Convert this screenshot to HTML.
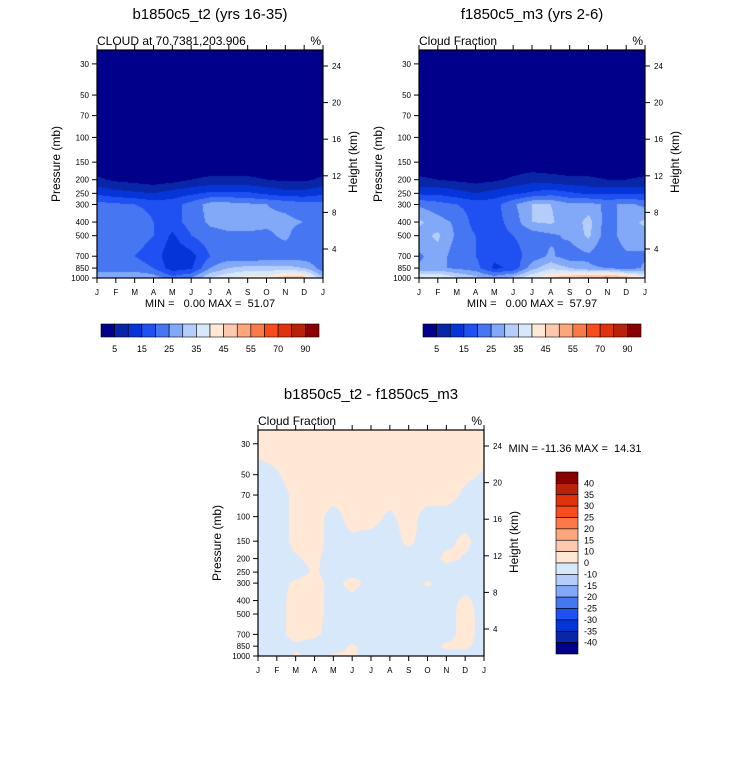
<!DOCTYPE html>
<html><head><meta charset="utf-8"><style>
html,body{margin:0;padding:0;background:#fff;}
#wrap{position:relative;width:733px;height:766px;overflow:hidden;font-family:"Liberation Sans",Arial,sans-serif;}
canvas{position:absolute;}
svg{position:absolute;left:0;top:0;}
text{white-space:pre;}
</style></head><body>
<div id="wrap">
<canvas id="c1"></canvas>
<canvas id="c2"></canvas>
<canvas id="c3"></canvas>
<svg id="s" width="733" height="766"></svg>
</div>
<script>
const months = ["J","F","M","A","M","J","J","A","S","O","N","D","J"];
const pLevels = [1000,850,700,500,400,300,250,200,150,100,70,50,30];
const pTicks = [30,50,70,100,150,200,250,300,400,500,700,850,1000];
const hTicks = [4,8,12,16,20,24];
const absLevels = [5,10,15,20,25,30,35,40,45,50,55,60,70,80,90];
const absLabels = ["5","15","25","35","45","55","70","90"];
const diffLevels = [-40,-35,-30,-25,-20,-15,-10,0,10,15,20,25,30,35,40];
const diffLabels = ["40","35","30","25","20","15","10","0","-10","-15","-20","-25","-30","-35","-40"];
const palette = ["#00008a","#0a26a8","#0535d8","#1f50f2","#4676f2","#82a8f8","#b4cdfb","#d7e8fb","#ffe8d6","#fcc9b0","#fca67e","#fb7a4a","#f84c1e","#e0320c","#b82208","#8a0000"];

const gridA = [
 [30,30,30,28,22,25,35,40,42,42,48,48,30],
 [22,22,22,20,12,14,25,30,32,32,32,30,22],
 [22,22,20,18,11,13,20,22,20,22,22,22,22],
 [22,22,22,20,14,20,23,24,24,24,26,22,22],
 [22,22,25,20,18,22,26,27,27,26,26,25,22],
 [22,21,20,18,18,22,27,27,26,25,24,22,22],
 [14,12,11,10,12,14,16,16,16,14,12,12,14],
 [6,4,3,2,3,5,6,6,6,5,4,4,6],
 [1,1,1,1,1,1,1,1,1,1,1,1,1],
 [1,1,1,1,1,1,1,1,1,1,1,1,1],
 [1,1,1,1,1,1,1,1,1,1,1,1,1],
 [1,1,1,1,1,1,1,1,1,1,1,1,1],
 [1,1,1,1,1,1,1,1,1,1,1,1,1]];
const gridB = [
 [40,42,36,32,28,32,40,45,50,52,55,50,40],
 [26,26,24,22,14,16,28,34,30,26,25,22,26],
 [24,28,22,20,16,18,22,26,22,24,20,24,24],
 [28,31,24,20,18,20,22,24,26,31,22,28,28],
 [31,27,24,18,18,22,30,31,26,32,22,28,31],
 [24,22,20,18,18,24,30,30,26,27,24,26,24],
 [14,14,12,10,12,14,16,18,16,14,14,14,14],
 [6,5,4,3,4,6,8,7,6,6,5,5,6],
 [1,1,1,1,1,1,1,1,1,1,1,1,1],
 [1,1,1,1,1,1,1,1,1,1,1,1,1],
 [1,1,1,1,1,1,1,1,1,1,1,1,1],
 [1,1,1,1,1,1,1,1,1,1,1,1,1],
 [1,1,1,1,1,1,1,1,1,1,1,1,1]];
const gridD = [
 [-12,-3,0.5,-1,0.3,0.3,-1,-1,-1,-1,-1,-1,-1],
 [-1,-1,-0.5,-1,-1,0.3,-1,-1,-1,-1,0.5,0.5,-1],
 [-1,-1,1,0.5,-1,-1,-1,-1,-1,-1,-1,1,-1],
 [-1,-1,1,1,-1,-1,-1,-1,-1,-1,-1,1,-1],
 [-1,-1,1,1,-1,-1,-1,-1,-1,-1,-1,0.5,-1],
 [-1,-1,0.5,1,-1,1,-1,-1,-1,0.3,-1,-1,-1],
 [-1,-1,-1,0.3,-1,-1,-1,-1,-1,-1,-1,-1,-1],
 [-1,-0.5,-0.2,0.5,-1,-1,-1,-1,-1,-1,0.5,-0.2,-1],
 [-1,-1,0.5,1,-1,-0.5,-1,-1,0.5,-1,-0.5,0.5,-1],
 [-1,-1,0.5,1,-1,1,1,-0.5,1,-1,-1,-1,-1],
 [-1,-1,0.5,1,1,1,1,1,1,1,1,-0.5,-1],
 [-1,-0.2,1,1,1,1,1,1,1,1,1,0.5,-0.2],
 [1,1,1,1,1,1,1,1,1,1,1,1,1]];

const panels = [
 {id:"c1",g:gridA,levels:absLevels,x0:97,x1:323,y0:50,y1:278,title:"b1850c5_t2 (yrs 16-35)",left:"CLOUD at 70.7381,203.906",stat:"MIN =   0.00 MAX =  51.07",name:"b1850c5-t2"},
 {id:"c2",g:gridB,levels:absLevels,x0:419,x1:645,y0:50,y1:278,title:"f1850c5_m3 (yrs 2-6)",left:"Cloud Fraction",stat:"MIN =   0.00 MAX =  57.97",name:"f1850c5-m3"},
 {id:"c3",g:gridD,levels:diffLevels,x0:258,x1:484,y0:430,y1:656,title:"b1850c5_t2 - f1850c5_m3",left:"Cloud Fraction",stat:null,name:"difference"}];

const NS="http://www.w3.org/2000/svg";
const svg=document.getElementById("s");
function el(tag,attrs,parent){const e=document.createElementNS(NS,tag);for(const k in attrs)e.setAttribute(k,attrs[k]);(parent||svg).appendChild(e);return e;}
function txt(x,y,s,size,anchor,parent){const t=el("text",{x:x,y:y,"font-size":size,"text-anchor":anchor||"start","font-family":"Liberation Sans, Arial, sans-serif",fill:"#000"},parent);t.textContent=s;return t;}
function colorFor(v,levels){let i=0;while(i<levels.length&&v>=levels[i])i++;return palette[i];}

panels.forEach(P=>{
  const W=P.x1-P.x0,H=P.y1-P.y0;
  const lnTop=Math.log(23.9),lnBot=Math.log(1000);
  const yOfP=p=>P.y0+(Math.log(p)-lnTop)/(lnBot-lnTop)*H;
  const xOfM=i=>P.x0+i*W/12;
  const cv=document.getElementById(P.id);
  cv.width=W;cv.height=H;cv.style.left=P.x0+"px";cv.style.top=P.y0+"px";
  const ctx=cv.getContext("2d");
  const lnP=pLevels.map(p=>Math.log(p));
  for(let py=0;py<H;py++){
    const lp=lnTop+(py+0.5)/H*(lnBot-lnTop);
    let k=0;while(k<lnP.length-2&&lp<lnP[k+1])k++;
    let ty=(lnP[k]-lp)/(lnP[k]-lnP[k+1]);ty=Math.max(0,Math.min(1,ty));
    for(let px=0;px<W;px++){
      const mx=(px+0.5)/W*12;let j=Math.min(11,Math.floor(mx));const tx=mx-j;
      const a=P.g[k][j]*(1-tx)+P.g[k][j+1]*tx,b=P.g[k+1][j]*(1-tx)+P.g[k+1][j+1]*tx;
      ctx.fillStyle=colorFor(a*(1-ty)+b*ty,P.levels);ctx.fillRect(px,py,1,1);
    }
  }
  const g=el("g",{});
  
  
  el("rect",{x:P.x0,y:P.y0,width:W,height:H,fill:"none",stroke:"#000","stroke-width":1.2},g);
  const cx=(P.x0+P.x1)/2;
  const t=txt(cx,P.y0-31,P.title,15,"middle",g);
  txt(P.x0,P.y0-5,P.left,12,"start",g);
  txt(P.x1-2,P.y0-5,"%",12,"end",g);
  months.forEach((m,i)=>{
    const x=xOfM(i);
    el("line",{x1:x,y1:P.y1,x2:x,y2:P.y1+5,stroke:"#000"},g);
    el("line",{x1:x,y1:P.y0,x2:x,y2:P.y0-5,stroke:"#000"},g);
    txt(x,P.y1+17,m,8,"middle",g);
  });
  pTicks.forEach(p=>{const y=yOfP(p);el("line",{x1:P.x0-5,y1:y,x2:P.x0,y2:y,stroke:"#000"},g);txt(P.x0-8,y+3,String(p),8,"end",g);});
  hTicks.forEach(h=>{const y=P.y0+16+(24-h)*9.15;el("line",{x1:P.x1,y1:y,x2:P.x1+5,y2:y,stroke:"#000"},g);txt(P.x1+9,y+3,String(h),8,"start",g);});
  const yl=txt(0,0,"Pressure (mb)",12,"middle",g);yl.setAttribute("transform",`translate(${P.x0-37},${(P.y0+P.y1)/2}) rotate(-90)`);
  const hl=txt(0,0,"Height (km)",12,"middle",g);hl.setAttribute("transform",`translate(${P.x1+34},${P.y0+112}) rotate(-90)`);
  if(P.stat){txt(cx,P.y1+29,P.stat,11,"middle",g);
    const cb=el("g",{});
    const bx=P.x0+4,bw=218/16;
    palette.forEach((c,i)=>el("rect",{x:bx+i*bw,y:324,width:bw,height:13,fill:c,stroke:"#000","stroke-width":0.6},cb));
    absLabels.forEach((l,i)=>txt(bx+(2*i+1)*bw,352,l,9,"middle",cb));
  }
});
txt(575,452,"MIN = -11.36 MAX =  14.31",11,"middle");
const vb=el("g",{});
const bh=182/16;
palette.slice().reverse().forEach((c,i)=>el("rect",{x:556,y:472+i*bh,width:22,height:bh,fill:c,stroke:"#000","stroke-width":0.6},vb));
diffLabels.forEach((l,i)=>txt(584,472+(i+1)*bh+3,l,9,"start",vb));
</script>
</body></html>
